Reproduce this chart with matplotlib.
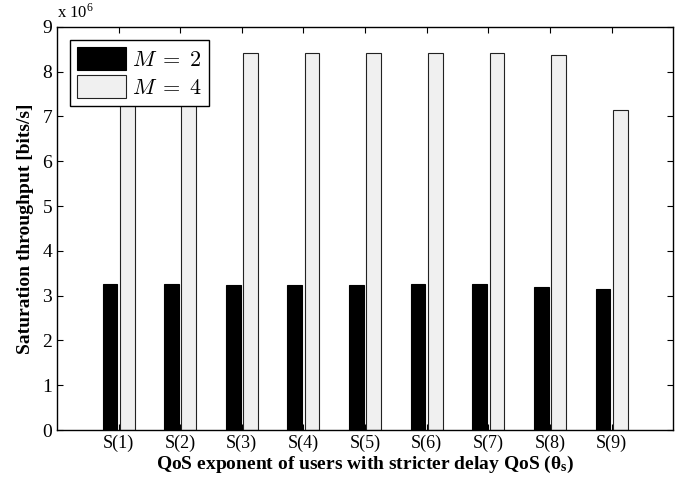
import numpy as np
import matplotlib.pyplot as plt

plt.rcParams['font.family'] = ['Liberation Serif', 'DejaVu Serif']
plt.rcParams['mathtext.fontset'] = 'cm'

categories = ['S(1)', 'S(2)', 'S(3)', 'S(4)', 'S(5)', 'S(6)', 'S(7)', 'S(8)', 'S(9)']
m2 = [3.25, 3.26, 3.24, 3.24, 3.24, 3.25, 3.25, 3.19, 3.14]
m4 = [8.42, 8.42, 8.42, 8.42, 8.42, 8.42, 8.42, 8.38, 7.14]

x = np.arange(1, len(categories) + 1)

fig = plt.figure(figsize=(6.94, 4.87), dpi=100)
ax = fig.add_axes([0.082, 0.117, 0.888, 0.828])

ax.bar(x - 0.14, m2, width=0.24, color='black', edgecolor='black', linewidth=0.8, label=r'$M\;=\;2$')
ax.bar(x + 0.14, m4, width=0.24, color='#f0f0f0', edgecolor='#222222', linewidth=0.8, label=r'$M\;=\;4$')

ax.set_xlim(0, 10)
ax.set_ylim(0, 9)
ax.set_xticks(x)
ax.set_xticklabels(categories, fontsize=13)
ax.set_yticks(range(10))
ax.tick_params(axis='y', labelsize=14)
ax.tick_params(direction='in', top=True, right=True, length=4)
for s in ax.spines.values():
    s.set_linewidth(1.0)

ax.set_ylabel('Saturation throughput [bits/s]', fontsize=14, fontweight='bold', labelpad=6)
ax.set_xlabel(r'QoS exponent of users with stricter delay QoS ($\mathregular{\theta_s}$)',
              fontsize=14, fontweight='bold', labelpad=1)
ax.text(0.0, 1.012, r'x 10$^{\mathregular{6}}$', transform=ax.transAxes, fontsize=12, ha='left', va='bottom')

leg = ax.legend(loc='upper left', fontsize=16, fancybox=False, edgecolor='black',
                handlelength=2.2, handleheight=1.2, borderpad=0.3, labelspacing=0.2,
                handletextpad=0.3, borderaxespad=0.6, framealpha=1)
leg.get_frame().set_linewidth(1.0)

fig.savefig('out.png', dpi=100)
